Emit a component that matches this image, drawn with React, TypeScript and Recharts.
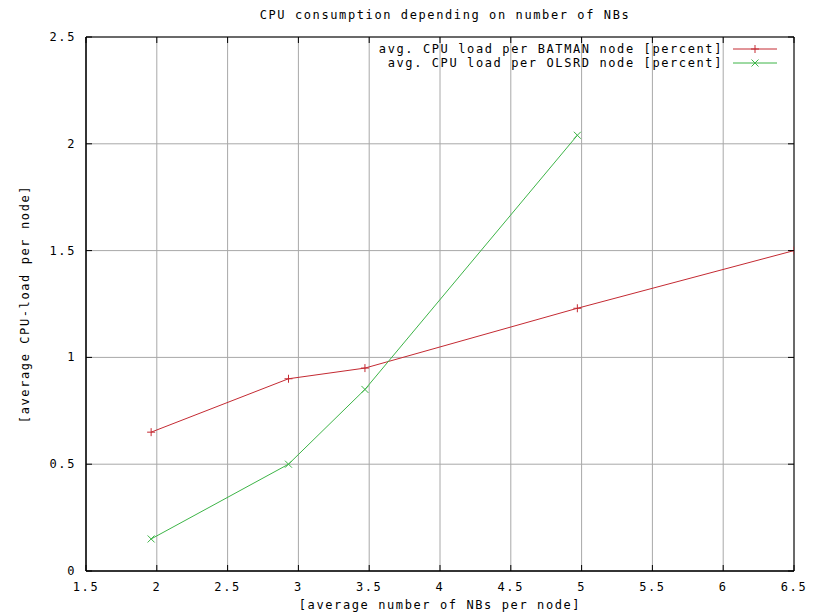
import { LineChart, Line, XAxis, YAxis, CartesianGrid, Legend, ReferenceArea, Label } from "recharts";

const nbBatman = [1.96, 2.93, 3.47, 4.97, 6.5];
const cpuBatman = [0.65, 0.9, 0.95, 1.23, 1.5];
const nbOlsrd = [1.96, 2.93, 3.47, 4.97];
const cpuOlsrd = [0.15, 0.5, 0.85, 2.04];
const xTicks = [1.5, 2, 2.5, 3, 3.5, 4, 4.5, 5, 5.5, 6, 6.5];
const yTicks = [0, 0.5, 1, 1.5, 2, 2.5];

const W = 819;
const H = 613;
const TOP = 37;
const RIGHT = 25;
const XAXIS_H = 42;
const YAXIS_W = 86;
const PW = W - YAXIS_W - RIGHT;
const PH = H - TOP - XAXIS_H;

const RED = "#c42a32";
const GREEN = "#3db447";
const FONT = "'DejaVu Sans Mono', monospace";
const txt = { fontFamily: FONT, fontSize: 12, letterSpacing: 1.6, fill: "#000" };

const batman = nbBatman.map((x, i) => ({ x, y: cpuBatman[i] }));
const olsrd = nbOlsrd.map((x, i) => ({ x, y: cpuOlsrd[i] }));

const Plus = ({ cx, cy, color }: any) => (
  <g>
    <line x1={cx - 4} y1={cy} x2={cx + 4} y2={cy} stroke={color} />
    <line x1={cx} y1={cy - 4} x2={cx} y2={cy + 4} stroke={color} />
  </g>
);
const Cross = ({ cx, cy, color }: any) => (
  <g>
    <line x1={cx - 3.5} y1={cy - 3.5} x2={cx + 3.5} y2={cy + 3.5} stroke={color} />
    <line x1={cx - 3.5} y1={cy + 3.5} x2={cx + 3.5} y2={cy - 3.5} stroke={color} />
  </g>
);

// gnuplot style: ticks point inward and are mirrored on the opposite side
const XTick = ({ x, y, payload }: any) => (
  <g>
    <line x1={x} y1={y} x2={x} y2={y - 6} stroke="#000" />
    <line x1={x} y1={y - PH} x2={x} y2={y - PH + 6} stroke="#000" />
    <text x={x} y={y + 20} textAnchor="middle" style={txt}>{String(payload.value)}</text>
  </g>
);
const YTick = ({ x, y, payload }: any) => (
  <g>
    <line x1={x} y1={y} x2={x + 6} y2={y} stroke="#000" />
    <line x1={x + PW} y1={y} x2={x + PW - 6} y2={y} stroke="#000" />
    <text x={x - 10} y={y + 4} textAnchor="end" style={txt}>{String(payload.value)}</text>
  </g>
);

const LegendBox = ({ payload }: any) => (
  <div>
    {(payload || []).map((p: any, i: number) => (
      <div key={i} style={{ display: "flex", justifyContent: "flex-end", alignItems: "center", height: 14 }}>
        <span style={{ fontFamily: FONT, fontSize: 12, letterSpacing: 1.6, color: "#000", whiteSpace: "pre" }}>{p.value}</span>
        <svg width={44} height={14} style={{ marginLeft: 10 }}>
          <line x1={0} y1={7} x2={44} y2={7} stroke={p.color} />
          {i === 0 ? <Plus cx={22} cy={7} color={p.color} /> : <Cross cx={22} cy={7} color={p.color} />}
        </svg>
      </div>
    ))}
  </div>
);

export default function App() {
  return (
    <div style={{ position: "absolute", left: 0, top: 0, width: W, height: H, background: "#fff" }}>
      <div style={{ position: "absolute", left: 0, width: 890, top: 8, textAlign: "center", fontFamily: FONT, fontSize: 12, letterSpacing: 1.6 }}>
        CPU consumption depending on number of NBs
      </div>
      <LineChart width={W} height={H} margin={{ top: TOP, right: RIGHT, bottom: 0, left: 0 }}>
        <CartesianGrid stroke="#a8a8a8" strokeWidth={1} />
        <XAxis
          type="number"
          dataKey="x"
          domain={[1.5, 6.5]}
          ticks={xTicks}
          allowDataOverflow
          tickSize={0}
          tickMargin={0}
          tickLine={false}
          axisLine={{ stroke: "#000" }}
          tick={<XTick />}
          height={XAXIS_H}
        >
          <Label value="[average number of NBs per node]" position="insideBottom" offset={4} style={{ ...txt, textAnchor: "middle" }} />
        </XAxis>
        <YAxis
          type="number"
          domain={[0, 2.5]}
          ticks={yTicks}
          allowDataOverflow
          tickSize={0}
          tickMargin={0}
          tickLine={false}
          axisLine={{ stroke: "#000" }}
          tick={<YTick />}
          width={YAXIS_W}
        >
          <Label value="[average CPU-load per node]" angle={-90} position="insideLeft" offset={25} style={{ ...txt, textAnchor: "middle" }} />
        </YAxis>
        <ReferenceArea x1={1.5} x2={6.5} y1={0} y2={2.5} stroke="#000" fill="none" fillOpacity={0} />
        <Legend
          layout="vertical"
          align="center"
          verticalAlign="middle"
          content={<LegendBox />}
          wrapperStyle={{ left: 337, top: 42, width: 440 }}
        />
        <Line
          data={batman}
          dataKey="y"
          name="avg. CPU load per BATMAN node [percent]"
          stroke={RED}
          strokeWidth={1}
          isAnimationActive={false}
          dot={(p: any) => <Plus key={p.index} cx={p.cx} cy={p.cy} color={RED} />}
          activeDot={false}
        />
        <Line
          data={olsrd}
          dataKey="y"
          name="avg. CPU load per OLSRD node [percent]"
          stroke={GREEN}
          strokeWidth={1}
          isAnimationActive={false}
          dot={(p: any) => <Cross key={p.index} cx={p.cx} cy={p.cy} color={GREEN} />}
          activeDot={false}
        />
      </LineChart>
    </div>
  );
}
